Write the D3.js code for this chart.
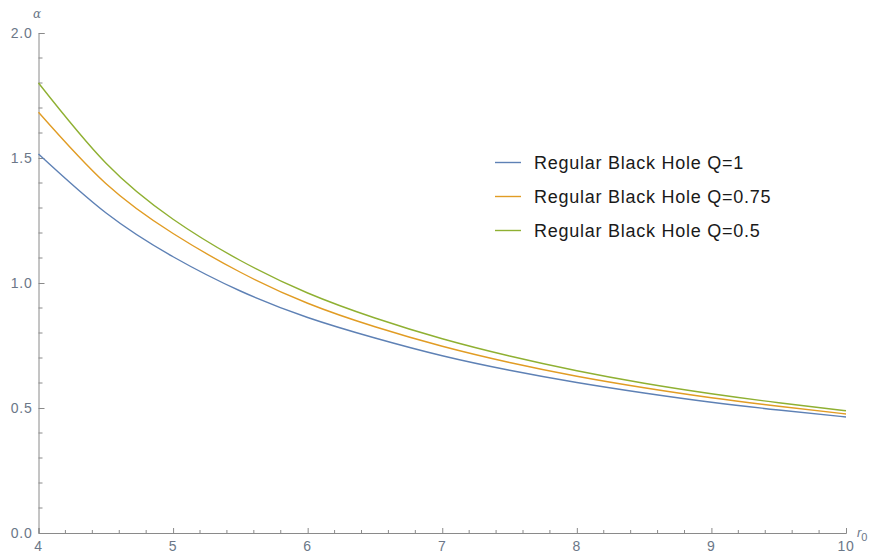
<!DOCTYPE html>
<html>
<head>
<meta charset="utf-8">
<script src="https://cdn.jsdelivr.net/npm/d3@7"></script>
<style>
  html, body { margin: 0; padding: 0; background: #fff; }
  svg { display: block; }
</style>
</head>
<body>
<svg id="chart" width="869" height="556"></svg>
<script>
// ---- data ----
const r0 = [4, 4.5, 5, 5.5, 6, 6.5, 7, 7.5, 8, 8.5, 9, 9.5, 10];
const alphaQ1   = [1.516, 1.281, 1.105, 0.968, 0.862, 0.780, 0.709, 0.651, 0.602, 0.560, 0.523, 0.492, 0.464];
const alphaQ075 = [1.683, 1.398, 1.198, 1.043, 0.919, 0.825, 0.747, 0.682, 0.627, 0.581, 0.541, 0.507, 0.476];
const alphaQ05  = [1.800, 1.480, 1.255, 1.090, 0.960, 0.860, 0.777, 0.708, 0.649, 0.599, 0.557, 0.521, 0.489];
const seriesNames = ["Regular Black Hole Q=1", "Regular Black Hole Q=0.75", "Regular Black Hole Q=0.5"];
const seriesColors = ["#5E81B5", "#E19C24", "#8FB032"];
const xTicks = [4, 5, 6, 7, 8, 9, 10];
const yTicks = [0, 0.5, 1.0, 1.5, 2.0];

const series = [alphaQ1, alphaQ075, alphaQ05];

const svg = d3.select("#chart");
const x = d3.scaleLinear().domain([4, 10]).range([38.5, 846]);
const y = d3.scaleLinear().domain([0, 2]).range([533, 33]);

const axisColor = "#8a8a8a";
const labelColor = "#6b7788";
const font = "'Liberation Sans', Arial, sans-serif";

// minor ticks
const xMinor = d3.range(4, 10.0001, 0.2).filter(v => Math.abs(v - Math.round(v)) > 1e-6);
const yMinor = d3.range(0, 2.0001, 0.1).filter(v => Math.abs(v * 2 - Math.round(v * 2)) > 1e-6);

// x axis
const gx = svg.append("g").attr("transform", `translate(0,${y(0)})`);
gx.call(d3.axisTop(x).tickValues(xTicks).tickSize(5).tickFormat(""))
  .call(g => g.select(".domain").attr("stroke", axisColor))
  .call(g => g.selectAll(".tick line").attr("stroke", axisColor));
gx.selectAll(".minor").data(xMinor).enter().append("line")
  .attr("x1", d => x(d)).attr("x2", d => x(d)).attr("y1", 0).attr("y2", -3)
  .attr("stroke", axisColor);
gx.selectAll(".xlab").data(xTicks).enter().append("text")
  .attr("x", d => x(d)).attr("y", 18)
  .attr("text-anchor", "middle")
  .attr("font-family", font).attr("font-size", 14).attr("letter-spacing", 0.8)
  .attr("fill", labelColor)
  .text(d => d3.format("d")(d));

// y axis
const gy = svg.append("g").attr("transform", `translate(${x(4)},0)`);
gy.call(d3.axisRight(y).tickValues(yTicks).tickSize(6).tickFormat(""))
  .call(g => g.select(".domain").attr("stroke", axisColor))
  .call(g => g.selectAll(".tick line").attr("stroke", axisColor));
gy.selectAll(".minor").data(yMinor).enter().append("line")
  .attr("y1", d => y(d)).attr("y2", d => y(d)).attr("x1", 0).attr("x2", 4)
  .attr("stroke", axisColor);
gy.selectAll(".ylab").data(yTicks).enter().append("text")
  .attr("x", -6).attr("y", d => y(d)).attr("dy", "0.36em")
  .attr("text-anchor", "end")
  .attr("font-family", font).attr("font-size", 14).attr("letter-spacing", 0.8)
  .attr("fill", labelColor)
  .text(d => d3.format(".1f")(d));

// axis labels
svg.append("text").attr("x", 37).attr("y", 18)
  .attr("text-anchor", "middle")
  .attr("font-family", "'DejaVu Serif', serif").attr("font-style", "italic")
  .attr("font-size", 12).attr("fill", labelColor).text("α");
const rl = svg.append("text").attr("x", 857).attr("y", 537)
  .attr("font-family", font).attr("font-style", "italic")
  .attr("font-size", 13).attr("fill", labelColor);
rl.append("tspan").text("r");
rl.append("tspan").attr("dy", 4).attr("font-size", 11).attr("font-style", "normal").text("0");

// curves
const line = d3.line().x((d, i) => x(r0[i])).y(d => y(d)).curve(d3.curveNatural);
svg.selectAll(".series").data(series).enter().append("path")
  .attr("d", d => line(d))
  .attr("fill", "none")
  .attr("stroke", (d, i) => seriesColors[i])
  .attr("stroke-width", 1.4);

// legend
const lg = svg.append("g");
seriesNames.forEach((name, i) => {
  const yy = 162.5 + i * 34;
  lg.append("line").attr("x1", 495).attr("x2", 521).attr("y1", yy).attr("y2", yy)
    .attr("stroke", seriesColors[i]).attr("stroke-width", 1.4);
  lg.append("text").attr("x", 534).attr("y", yy).attr("dy", "0.36em")
    .attr("font-family", font).attr("font-size", 18).attr("letter-spacing", 0.75)
    .attr("fill", "#1a1a1a")
    .text(name);
});
</script>
</body>
</html>
